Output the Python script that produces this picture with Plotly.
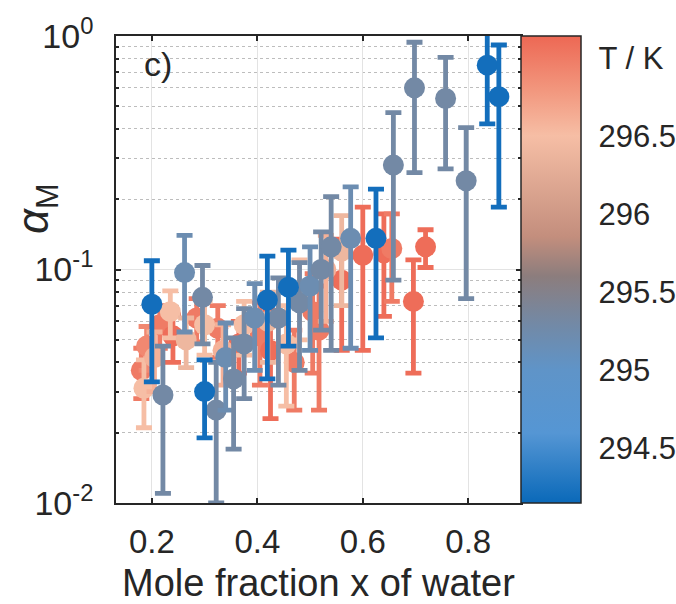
import plotly.graph_objects as go
from plotly.colors import sample_colorscale

# ---- data ----
x_water = [0.180, 0.190, 0.215, 0.240, 0.285, 0.325, 0.365, 0.405, 0.425, 0.470,
           0.505, 0.517, 0.560, 0.600, 0.640, 0.655, 0.696, 0.719,
           0.185, 0.205, 0.235, 0.265, 0.300, 0.335, 0.375, 0.420, 0.455, 0.480,
           0.530, 0.560,
           0.221, 0.262, 0.296, 0.322, 0.340, 0.355, 0.375, 0.395, 0.440, 0.480,
           0.500, 0.521, 0.540, 0.577, 0.658, 0.698, 0.757, 0.796,
           0.200, 0.300, 0.419, 0.459, 0.625, 0.836, 0.858]
alpha_m = [0.037, 0.047, 0.058, 0.052, 0.062, 0.056, 0.048, 0.052, 0.045, 0.040,
           0.066, 0.055, 0.090, 0.115, 0.118, 0.123, 0.073, 0.125,
           0.031, 0.042, 0.066, 0.050, 0.058, 0.045, 0.058, 0.060, 0.048, 0.080,
           0.100, 0.120,
           0.029, 0.097, 0.076, 0.025, 0.042, 0.034, 0.048, 0.062, 0.062, 0.072,
           0.085, 0.100, 0.125, 0.136, 0.280, 0.600, 0.540, 0.240,
           0.071, 0.030, 0.074, 0.084, 0.136, 0.750, 0.550]
alpha_err = [0.009, 0.010, 0.012, 0.012, 0.013, 0.014, 0.012, 0.020, 0.022, 0.015,
             0.030, 0.030, 0.045, 0.070, 0.055, 0.050, 0.037, 0.023,
             0.010, 0.012, 0.015, 0.012, 0.015, 0.013, 0.015, 0.020, 0.022, 0.030,
             0.040, 0.050,
             0.018, 0.043, 0.028, 0.015, 0.017, 0.017, 0.020, 0.025, 0.030, 0.035,
             0.040, 0.045, 0.080, 0.090, 0.190, 0.340, 0.270, 0.165,
             0.038, 0.011, 0.040, 0.037, 0.085, 0.330, 0.365]
temp_k = [297.0, 296.9, 297.0, 297.1, 297.0, 297.0, 297.1, 297.0, 297.1, 297.0,
          297.0, 297.0, 297.1, 297.1, 297.1, 297.0, 297.1, 297.1,
          296.5, 296.6, 296.5, 296.4, 296.5, 296.6, 296.5, 296.4, 296.5, 296.5,
          296.6, 296.4,
          295.3, 295.2, 295.3, 295.3, 295.2, 295.3, 295.3, 295.2, 295.3, 295.3,
          295.2, 295.3, 295.3, 295.2, 295.3, 295.3, 295.3, 295.3,
          294.2, 294.2, 294.2, 294.2, 294.2, 294.2, 294.2]

cb_tickvals = [294.5, 295, 295.5, 296, 296.5, 297]
cb_ticktext = ["294.5", "295", "295.5", "296", "296.5", "T / K"]
y_tickvals = [0.01, 0.1, 1]
y_ticktext = ["10<sup>-2</sup>", "10<sup>-1</sup>", "10<sup>0</sup>"]
x_tickvals = [0.2, 0.4, 0.6, 0.8]
x_ticktext = ["0.2", "0.4", "0.6", "0.8"]

T_MIN, T_MAX = 294.146, 297.14
cscale = [
    [0.0, "rgb(10,105,185)"],
    [0.15, "rgb(85,150,212)"],
    [0.285, "rgb(95,148,200)"],
    [0.385, "rgb(115,137,165)"],
    [0.486, "rgb(140,125,125)"],
    [0.57, "rgb(195,142,125)"],
    [0.786, "rgb(246,190,165)"],
    [0.886, "rgb(242,150,125)"],
    [1.0, "rgb(237,104,84)"],
]

FONT = "Liberation Sans, Arial, sans-serif"
TXT = "#262626"

fig = go.Figure()
for xv, yv, ev, tv in zip(x_water, alpha_m, alpha_err, temp_k):
    col = sample_colorscale(cscale, [(tv - T_MIN) / (T_MAX - T_MIN)])[0]
    fig.add_trace(go.Scatter(
        x=[xv], y=[yv], mode="markers",
        marker=dict(size=21, color=[tv], coloraxis="coloraxis", line=dict(width=0)),
        error_y=dict(type="data", array=[ev], color=col, thickness=4.8, width=8),
        showlegend=False, hoverinfo="skip",
    ))

fig.update_layout(
    width=676, height=604,
    margin=dict(l=116, r=155, t=36, b=101, autoexpand=False),
    paper_bgcolor="white", plot_bgcolor="white",
    font=dict(family=FONT, size=32, color=TXT),
    coloraxis=dict(
        colorscale=cscale, cmin=T_MIN, cmax=T_MAX,
        colorbar=dict(
            x=1.0, xanchor="left", xpad=0, ypad=0,
            y=0.5, yanchor="middle", yref="paper",
            len=467, lenmode="pixels",
            thickness=60, thicknessmode="pixels",
            outlinewidth=1.5, outlinecolor=TXT,
            tickmode="array", tickvals=cb_tickvals, ticktext=cb_ticktext,
            ticks="outside", ticklen=11, tickcolor="rgba(0,0,0,0)", tickwidth=1,
            tickfont=dict(family=FONT, size=31, color=TXT),
        ),
    ),
    xaxis=dict(
        range=[0.132, 0.9], automargin=False,
        tickmode="array", tickvals=x_tickvals, ticktext=x_ticktext,
        ticks="inside", ticklen=5, tickwidth=1.5, tickcolor=TXT,
        showline=True, linecolor=TXT, linewidth=1.5, mirror="ticks",
        showgrid=True, gridcolor="#e3e3e3", gridwidth=1,
        zeroline=False,
        tickfont=dict(family=FONT, size=33, color=TXT),
        ticklabelstandoff=9,
        title=dict(text="Mole fraction x of water", standoff=12,
                   font=dict(family=FONT, size=38, color=TXT)),
    ),
    yaxis=dict(
        type="log", range=[-2, 0], automargin=False,
        tickmode="array", tickvals=y_tickvals, ticktext=y_ticktext,
        ticks="inside", ticklen=5, tickwidth=1.5, tickcolor=TXT,
        showline=True, linecolor=TXT, linewidth=1.5, mirror="ticks",
        showgrid=True, gridcolor="#e3e3e3", gridwidth=1,
        zeroline=False,
        tickfont=dict(family=FONT, size=34, color=TXT),
        ticklabelstandoff=14,
        minor=dict(dtick="D1", showgrid=True, griddash="dot", gridcolor="#bdbdbd",
                   gridwidth=1, ticks="inside", ticklen=3, tickcolor=TXT),
    ),
    annotations=[
        dict(text="c)", xref="paper", yref="paper", x=0.065, y=0.94,
             xanchor="left", yanchor="middle", showarrow=False,
             font=dict(family=FONT, size=34, color=TXT)),
        dict(text="<i>α</i><sub>M</sub>", xref="paper", yref="paper",
             x=-0.197, y=0.63, xanchor="center", yanchor="middle",
             textangle=-90, showarrow=False,
             font=dict(family=FONT, size=44, color=TXT)),
    ],
)

fig.write_html("out.html", config={"displayModeBar": False},
               post_script="document.body.style.margin='0';document.body.style.overflow='hidden';")
